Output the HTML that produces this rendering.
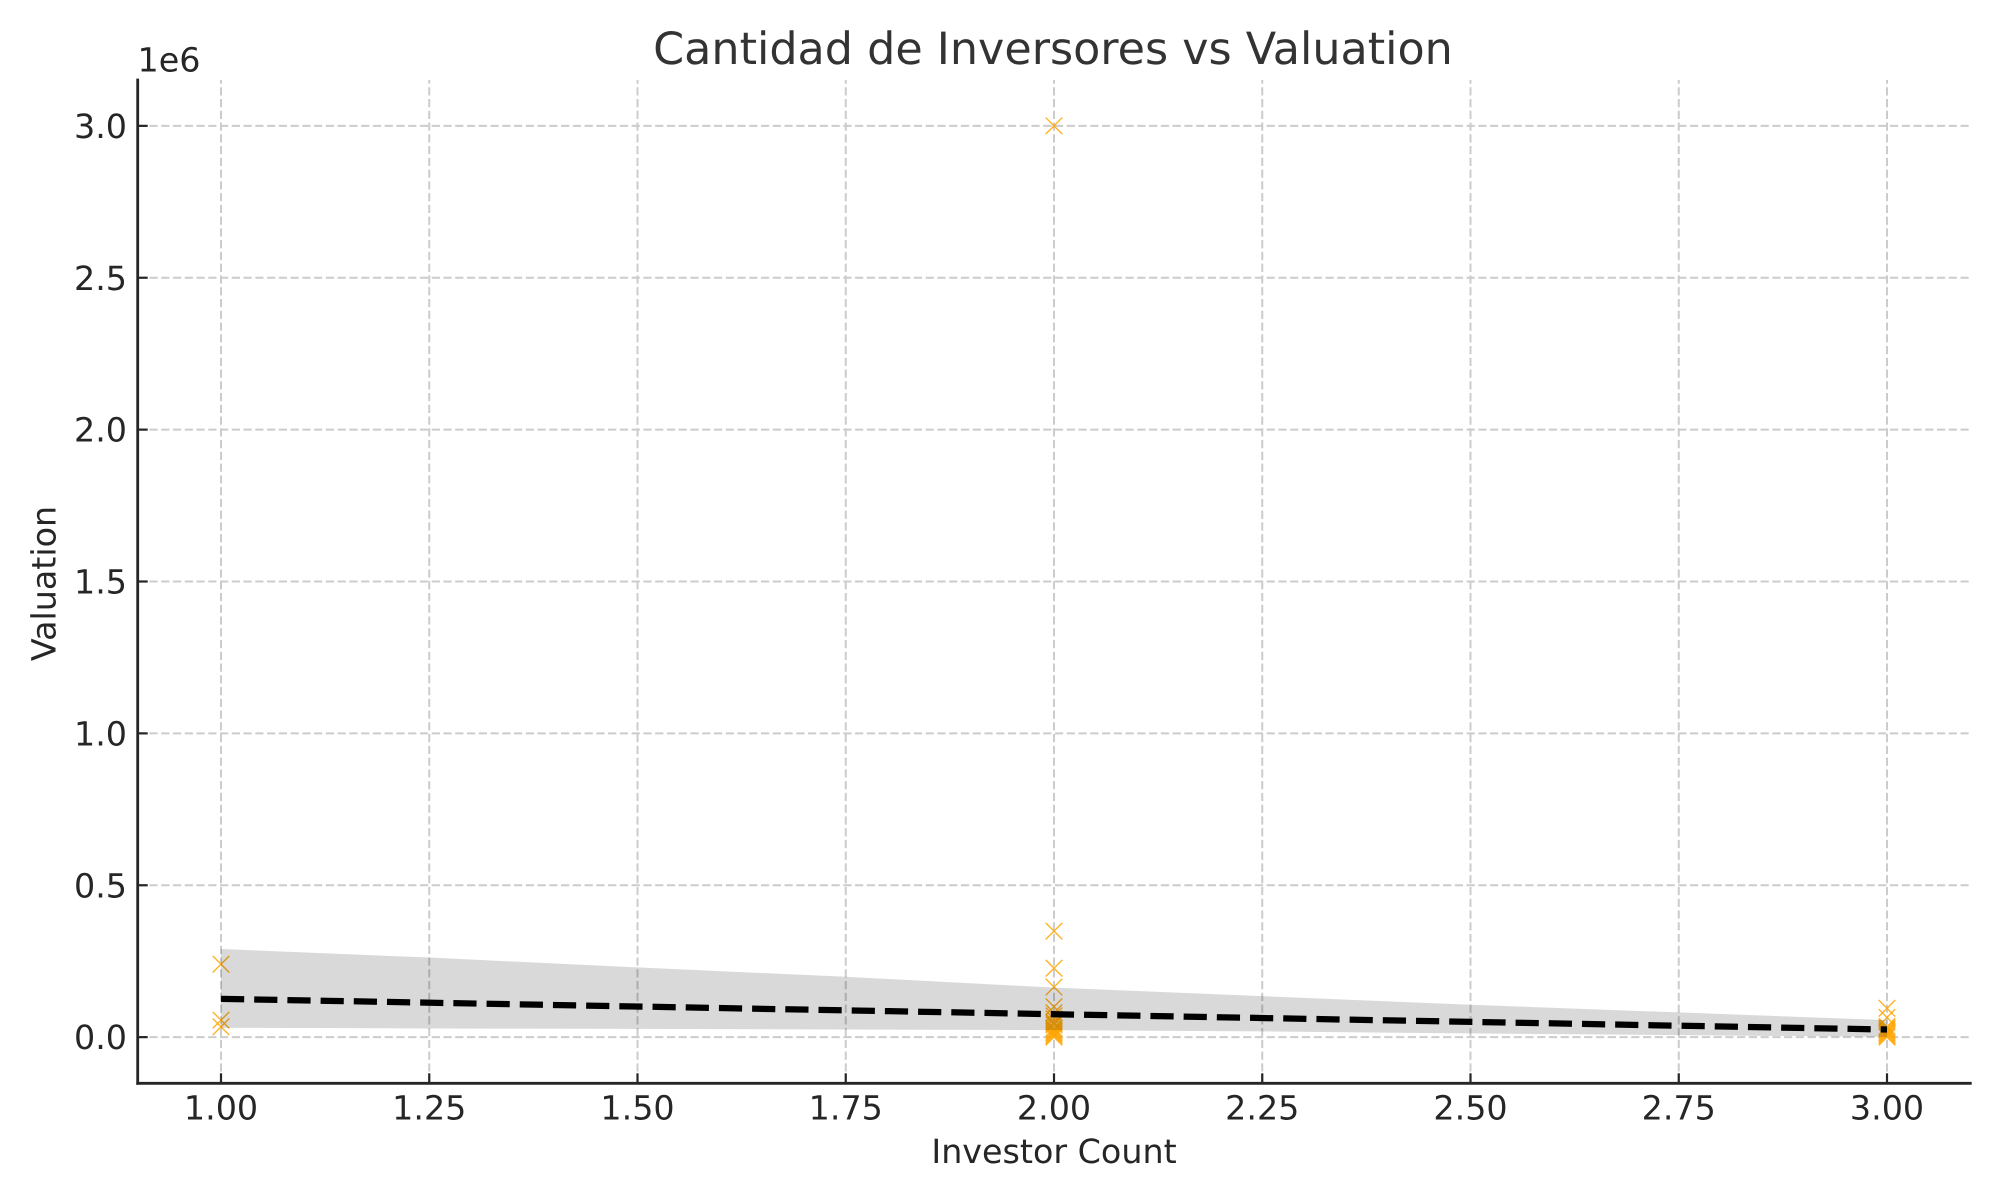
<!DOCTYPE html>
<html lang="es">
<head>
<meta charset="utf-8">
<title>Cantidad de Inversores vs Valuation</title>
<style>
  html, body { margin: 0; padding: 0; background: #ffffff; }
  svg { display: block; }
  text { font-family: "DejaVu Sans", "Liberation Sans", sans-serif; text-rendering: geometricPrecision; }
</style>
</head>
<body>
<svg id="chart" xmlns="http://www.w3.org/2000/svg" width="2000" height="1200" viewBox="0 0 2000 1200">
  <rect x="0" y="0" width="2000" height="1200" fill="#ffffff"/>
  <g id="grid"></g>
  <g id="points"></g>
  <g id="fit"></g>
  <g id="axes"></g>
  <text x="1053" y="64" text-anchor="middle" font-size="44.44" fill="#333333">Cantidad de Inversores vs Valuation</text>
  <text x="1054" y="1163" text-anchor="middle" font-size="33.33" fill="#262626">Investor Count</text>
  <text transform="translate(55.5 583.5) rotate(-90)" text-anchor="middle" font-size="33.33" fill="#262626">Valuation</text>
  <text x="137.5" y="71.5" font-size="33.33" fill="#262626">1e6</text>
</svg>
<script>
// ---- chart data ----
const xTicks = [1.00, 1.25, 1.50, 1.75, 2.00, 2.25, 2.50, 2.75, 3.00];
const xTickLabels = ["1.00", "1.25", "1.50", "1.75", "2.00", "2.25", "2.50", "2.75", "3.00"];
const yTicks = [0, 500000, 1000000, 1500000, 2000000, 2500000, 3000000];
const yTickLabels = ["0.0", "0.5", "1.0", "1.5", "2.0", "2.5", "3.0"];

const investorCount = [
  1, 1, 1,
  2, 2, 2, 2, 2, 2, 2, 2, 2, 2, 2, 2, 2, 2, 2, 2, 2, 2,
  3, 3, 3, 3, 3, 3, 3, 3, 3, 3
];
const valuation = [
  240000, 56000, 34000,
  3000000, 349000, 227000, 165000, 100000, 80000, 70000, 60000, 50000, 45000, 40000, 30000, 25000, 20000, 15000, 10000, 5000, 0,
  95000, 65000, 35000, 30000, 25000, 20000, 15000, 10000, 5000, 0
];

const fitX = [1, 3];
const fitY = [126000, 25000];

const bandX = [1, 1.25, 1.5, 1.75, 2, 2.25, 2.5, 2.75, 3];
const bandUpper = [290000, 262000, 229500, 198600, 163000, 135000, 106400, 81300, 56000];
const bandLower = [30600, 28600, 27000, 25000, 23000, 18800, 12200, 6600, 1000];

// ---- axis functions ----
const xDomain = [0.9, 3.1];
const yDomain = [-152000, 3151000];
const plot = { left: 137.7, right: 1970.3, top: 80, bottom: 1083.3 };
function xAxis(v) {
  return plot.left + (v - xDomain[0]) / (xDomain[1] - xDomain[0]) * (plot.right - plot.left);
}
function yAxis(v) {
  return plot.bottom - (v - yDomain[0]) / (yDomain[1] - yDomain[0]) * (plot.bottom - plot.top);
}

const SVG_NS = "http://www.w3.org/2000/svg";
function make(tag, attrs, parent) {
  const node = document.createElementNS(SVG_NS, tag);
  for (const k in attrs) node.setAttribute(k, attrs[k]);
  parent.appendChild(node);
  return node;
}

const gridLayer = document.getElementById("grid");
const pointLayer = document.getElementById("points");
const fitLayer = document.getElementById("fit");
const axesLayer = document.getElementById("axes");

const gridStyle = { stroke: "#cccccc", "stroke-width": 2, "stroke-dasharray": "8.2 3.56", fill: "none" };

// grid
xTicks.forEach(function (t) {
  const line = make("line", Object.assign({ x1: xAxis(t), x2: xAxis(t), y1: plot.bottom, y2: plot.top }, gridStyle), gridLayer);
  
  
});
yTicks.forEach(function (t) {
  const line = make("line", Object.assign({ x1: plot.left, x2: plot.right, y1: yAxis(t), y2: yAxis(t) }, gridStyle), gridLayer);
  
  
});

// scatter markers
const markerHalf = 8.3;
investorCount.forEach(function (c, i) {
  const cx = xAxis(c);
  const cy = yAxis(valuation[i]);
  const d = "M" + (cx - markerHalf) + " " + (cy - markerHalf) + "L" + (cx + markerHalf) + " " + (cy + markerHalf) +
            "M" + (cx - markerHalf) + " " + (cy + markerHalf) + "L" + (cx + markerHalf) + " " + (cy - markerHalf);
  const mark = make("path", { d: d, stroke: "#ffa500", "stroke-opacity": 0.85, "stroke-width": 1.4, fill: "none" }, pointLayer);
  
  
});

// confidence band
const upperPts = bandX.map(function (x, i) { return xAxis(x) + "," + yAxis(bandUpper[i]); });
const lowerPts = bandX.map(function (x, i) { return xAxis(x) + "," + yAxis(bandLower[i]); }).reverse();
const band = make("polygon", { points: upperPts.concat(lowerPts).join(" "), fill: "#000000", "fill-opacity": 0.15 }, fitLayer);



// regression line
const fitLine = make("line", {
  x1: xAxis(fitX[0]), y1: yAxis(fitY[0]), x2: xAxis(fitX[1]), y2: yAxis(fitY[1]),
  stroke: "#000000", "stroke-width": 6.25, "stroke-dasharray": "23.2 10"
}, fitLayer);



// spines
const leftSpine = make("line", { x1: plot.left, x2: plot.left, y1: plot.top, y2: plot.bottom, stroke: "#262626", "stroke-width": 2.8, "stroke-linecap": "square" }, axesLayer);


const bottomSpine = make("line", { x1: plot.left, x2: plot.right, y1: plot.bottom, y2: plot.bottom, stroke: "#262626", "stroke-width": 2.8, "stroke-linecap": "square" }, axesLayer);



// x ticks and labels
xTicks.forEach(function (t, i) {
  const tick = make("line", { x1: xAxis(t), x2: xAxis(t), y1: plot.bottom, y2: plot.bottom - 10, stroke: "#262626", "stroke-width": 2.2 }, axesLayer);
  
  
  const label = make("text", { x: xAxis(t), y: 1119.3, "text-anchor": "middle", "font-size": 33.33, fill: "#262626" }, axesLayer);
  label.textContent = xTickLabels[i];
  
  
});

// y ticks and labels
yTicks.forEach(function (t, i) {
  const tick = make("line", { x1: plot.left, x2: plot.left + 10, y1: yAxis(t), y2: yAxis(t), stroke: "#262626", "stroke-width": 2.2 }, axesLayer);
  
  
  const label = make("text", { x: 127, y: yAxis(t) + 12.1, "text-anchor": "end", "font-size": 33.33, fill: "#262626" }, axesLayer);
  label.textContent = yTickLabels[i];
  
  
});
</script>
</body>
</html>
